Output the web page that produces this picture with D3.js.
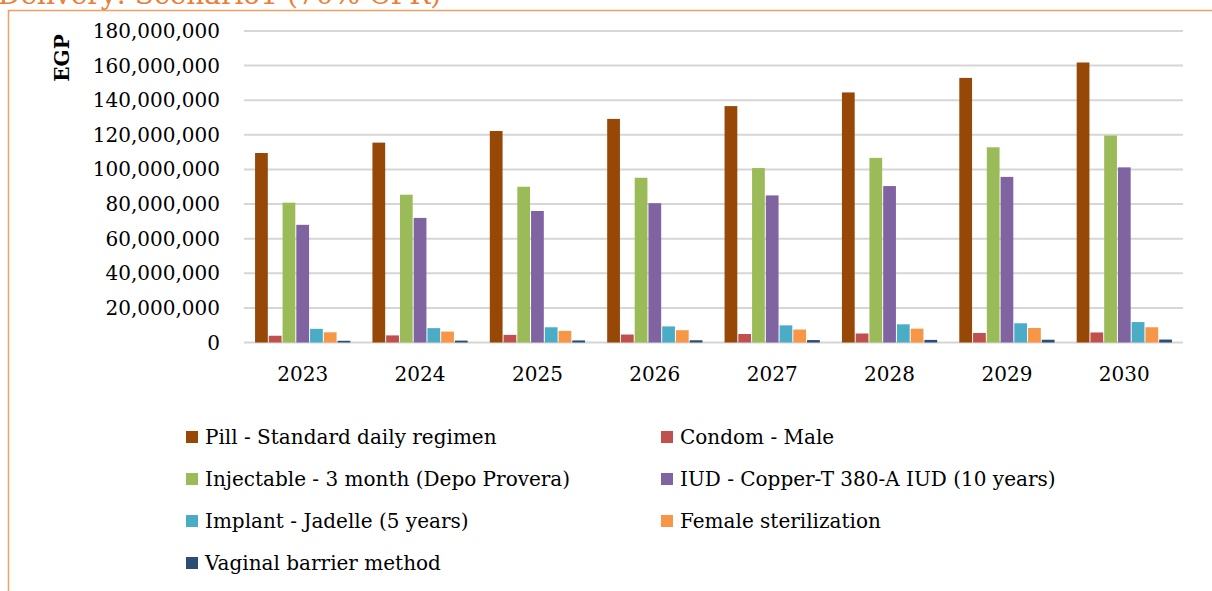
<!DOCTYPE html>
<html><head><meta charset="utf-8">
<script src="https://cdn.jsdelivr.net/npm/d3@7"></script>
<style>body{margin:0;background:#fff;}svg{display:block;}text{font-family:"DejaVu Serif","Liberation Serif",serif;}</style>
</head><body>
<script>
const years = ["2023","2024","2025","2026","2027","2028","2029","2030"];
const seriesNames = ["Pill - Standard daily regimen","Condom - Male","Injectable - 3 month (Depo Provera)","IUD - Copper-T 380-A IUD (10 years)","Implant - Jadelle (5 years)","Female sterilization","Vaginal barrier method"];
const pill = [109.5,115.5,122.2,129.2,136.6,144.5,152.9,161.8];
const condom = [3.9,4.1,4.4,4.6,4.9,5.2,5.5,5.8];
const injectable = [80.8,85.4,90.0,95.2,100.8,106.7,112.8,119.6];
const iud = [68.0,72.0,76.0,80.5,85.0,90.4,95.7,101.2];
const implant = [7.9,8.3,8.8,9.3,9.9,10.5,11.1,11.8];
const femaleSter = [5.9,6.3,6.7,7.1,7.5,8.0,8.4,8.8];
const vaginal = [1.0,1.1,1.2,1.3,1.4,1.5,1.6,1.7];
const yTicks = [0,20,40,60,80,100,120,140,160,180];
const colors = ["#974706","#C0504D","#9BBB59","#8064A2","#4BACC6","#F79646","#2C4D75"];
const allSeries = [pill,condom,injectable,iud,implant,femaleSter,vaginal];

const W=1212,H=591;
const svg=d3.select("body").append("svg").attr("width",W).attr("height",H);

// title (cut off at top as in the reference) and border
svg.append("text").attr("x",-2).attr("y",4).attr("fill","#E8803A").attr("font-size",28).text("Delivery: Scenario1 (70% CPR)");
svg.append("path").attr("d","M8.5,591 V10.5 H1212").attr("fill","none").attr("stroke","#F0A060").attr("stroke-width",1.5);

const x0=d3.scaleBand().domain(years).range([244,1183]).paddingInner(0.18).paddingOuter(0.09);
const x1=d3.scaleBand().domain(d3.range(7)).range([0,x0.bandwidth()]);
const y=d3.scaleLinear().domain([0,180]).range([342.5,31]);

// gridlines
svg.append("g").selectAll("line").data(yTicks).join("line")
 .attr("x1",244).attr("x2",1183).attr("y1",d=>y(d)).attr("y2",d=>y(d))
 .attr("stroke","#D6D6D6").attr("stroke-width",2);

// y labels
const fmt=d3.format(",");
svg.append("g").selectAll("text").data(yTicks).join("text")
 .attr("x",220).attr("y",d=>y(d)).attr("dy","0.35em").attr("text-anchor","end")
 .attr("font-size",20).attr("fill","#000").text(d=>fmt(d*1000000));

svg.append("text").attr("transform","translate(69,58) rotate(-90)").attr("text-anchor","middle")
 .attr("font-size",20).attr("font-weight","bold").text("EGP");

// bars
const g=svg.append("g");
allSeries.forEach((s,i)=>{
  g.append("g").selectAll("rect").data(s).join("rect")
   .attr("x",(d,j)=>x0(years[j])+x1(i)+0.5).attr("width",x1.bandwidth()-1)
   .attr("y",d=>y(d)).attr("height",d=>y(0)-y(d))
   .attr("fill",colors[i]);
});

// x labels
svg.append("g").selectAll("text").data(years).join("text")
 .attr("x",d=>x0(d)+x0.bandwidth()/2).attr("y",381).attr("text-anchor","middle")
 .attr("font-size",20).text(d=>d);

// legend
const legPos=[[186,437],[661,437],[186,479],[661,479],[186,521],[661,521],[186,563]];
seriesNames.forEach((n,i)=>{
  const [lx,ly]=legPos[i];
  svg.append("rect").attr("x",lx).attr("y",ly-6).attr("width",12).attr("height",12).attr("fill",colors[i]);
  svg.append("text").attr("x",lx+19).attr("y",ly).attr("dy","0.35em").attr("font-size",20).text(n);
});
</script>
</body></html>
